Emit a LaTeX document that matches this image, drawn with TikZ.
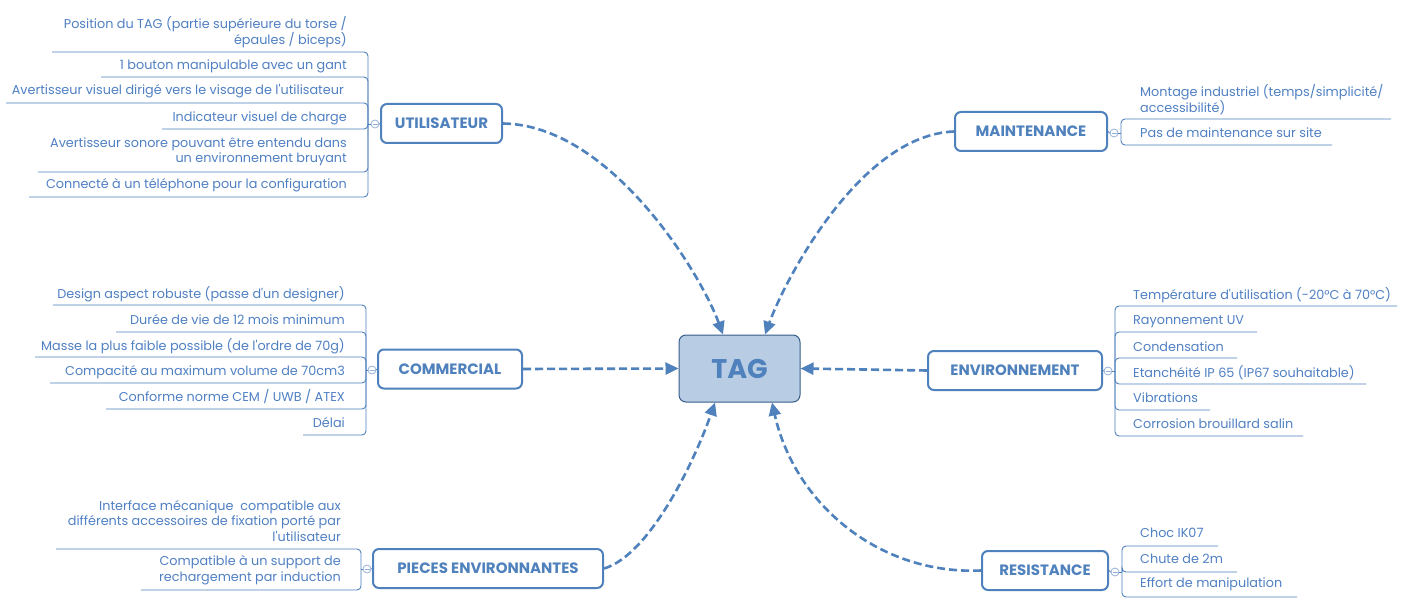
\documentclass[tikz,border=0pt]{standalone}
\usepackage{fontspec}
\setmainfont{Poppins}[Ligatures=TeXOff]
\usetikzlibrary{arrows.meta,calc}
\definecolor{mblue}{RGB}{79,129,189}
\definecolor{itxt}{RGB}{80,128,196}
\definecolor{tagfill}{RGB}{184,204,228}
\definecolor{tagline}{RGB}{56,93,138}
\definecolor{knobc}{RGB}{150,178,218}
\newcommand\litem[7]{% name, textx, texty, text, uleft, uy, bx/cy
  \node[itm,anchor=east,align=right] (#1) at (#2,#3) {#4};
  \draw[uline] (#5,#6) -- #7;
}
\newcommand\ritem[7]{%
  \node[itm,anchor=west,align=left] (#1) at (#2,#3) {#4};
  \draw[uline] (#5,#6) -- #7;
}
\begin{document}
\begin{tikzpicture}[x=1pt,y=-1pt,
  cat/.style={draw=mblue, line width=2pt, rounded corners=6pt, text=mblue,
    font=\bfseries\fontsize{15}{17}\selectfont, inner sep=0pt, minimum height=39pt},
  itm/.style={text=itxt, font=\fontsize{12.8}{15.5}\selectfont, inner sep=0pt},
  uline/.style={draw=mblue, line width=0.9pt, rounded corners=4pt},
  knobst/.style={circle, draw=knobc, line width=0.8pt, minimum size=8pt, inner sep=0pt, fill=white},
  arr/.style={draw=mblue, line width=2.6pt, dash pattern=on 8pt off 4pt, -{Triangle[length=13pt,width=12pt]}},
]
\useasboundingbox (0,0) rectangle (1408,604);
\fill[white] (0,0) rectangle (1408,604);

% central node
\node[draw=tagline, line width=1pt, fill=tagfill, rounded corners=7pt, minimum width=121pt, minimum height=67pt,
  text=mblue, font=\bfseries\fontsize{27}{30}\selectfont, inner sep=0pt] (tag) at (739.5,368.5) {TAG};

% category nodes
\node[cat, minimum width=121pt] (util) at (441.5,123.5) {UTILISATEUR};
\node[cat, minimum width=144pt] (comm) at (450,369) {COMMERCIAL};
\node[cat, minimum width=230pt] (piec) at (488,568.5) {PIECES ENVIRONNANTES};
\node[cat, minimum width=152pt] (main) at (1031,131.5) {MAINTENANCE};
\node[cat, minimum width=174pt] (envi) at (1015,370.5) {ENVIRONNEMENT};
\node[cat, minimum width=126pt] (resi) at (1045,570.5) {RESISTANCE};

% arrows
\draw[arr] (util.east) .. controls (610,125) and (700,272) .. ([xshift=-16.5pt]tag.north);
\draw[arr] (main.west) .. controls (860,135) and (785,280) .. ([xshift=25.5pt]tag.north);
\draw[arr] (comm.east) -- (tag.west);
\draw[arr] (envi.west) -- (tag.east);
\draw[arr] (piec.east) .. controls (650,555) and (695,460) .. ([xshift=-24.5pt]tag.south);
\draw[arr] (resi.west) .. controls (880,575) and (795,505) .. ([xshift=32.5pt]tag.south);

% knobs
\node[knobst] (ku) at (375,124) {};
\node[knobst] (kc) at (372,370) {};
\node[knobst] (kp) at (367,569) {};
\node[knobst] (km) at (1114,133) {};
\node[knobst] (ke) at (1108,371) {};
\node[knobst] (kr) at (1115,572) {};
\foreach \k in {ku,kc,kp,km,ke,kr}{
  \draw[knobc, line width=0.8pt] ([xshift=-2.5pt]\k.center) -- ([xshift=2.5pt]\k.center);
}
\draw[uline] (368,124) -- (ku.west);  \draw[uline] (ku.east) -- (util.west);
\draw[uline] (366,370) -- (kc.west);  \draw[uline] (kc.east) -- (comm.west);
\draw[uline] (361,569) -- (kp.west);  \draw[uline] (kp.east) -- (piec.west);
\draw[uline] (1121,133) -- (km.east); \draw[uline] (km.west) -- (main.east);
\draw[uline] (1115,371) -- (ke.east); \draw[uline] (ke.west) -- (envi.east);
\draw[uline] (1122,572) -- (kr.east); \draw[uline] (kr.west) -- (resi.east);

% UTILISATEUR items
\litem{u1}{347}{32}{Position du TAG (partie supérieure du torse /\\épaules / biceps)}{52}{52}{(368,52) -- (368,124)}
\litem{u2}{347}{66}{1 bouton manipulable avec un gant}{101}{77}{(368,77) -- (368,124)}
\litem{u3}{344}{91}{Avertisseur visuel dirigé vers le visage de l'utilisateur}{6}{103}{(368,103) -- (368,124)}
\litem{u4}{347}{118}{Indicateur visuel de charge}{162}{129}{(368,129) -- (368,124)}
\litem{u5}{347}{152}{Avertisseur sonore pouvant être entendu dans\\un environnement bruyant}{38}{172}{(368,172) -- (368,124)}
\litem{u6}{347}{185}{Connecté à un téléphone pour la configuration}{29}{197}{(368,197) -- (368,124)}

% COMMERCIAL items
\litem{c1}{345}{294}{Design aspect robuste (passe d'un designer)}{53}{305}{(366,305) -- (366,370)}
\litem{c2}{345}{320}{Durée de vie de 12 mois minimum}{116}{332}{(366,332) -- (366,370)}
\litem{c3}{345}{346}{Masse la plus faible possible (de l'ordre de 70g)}{35}{357}{(366,357) -- (366,370)}
\litem{c4}{345}{372}{Compacité au maximum volume de 70cm3}{50}{383}{(366,383) -- (366,370)}
\litem{c5}{345}{397}{Conforme norme CEM / UWB / ATEX}{106}{409}{(366,409) -- (366,370)}
\litem{c6}{345}{423}{Délai}{303}{435}{(366,435) -- (366,370)}

% PIECES items
\litem{p1}{341}{521}{Interface mécanique \ compatible aux\\différents accessoires de fixation porté par\\l'utilisateur}{56}{549}{(361,549) -- (361,569)}
\litem{p2}{341}{570}{Compatible à un support de\\rechargement par induction}{141}{590}{(361,590) -- (361,569)}

% MAINTENANCE items
\ritem{m1}{1140}{99.5}{Montage industriel (temps/simplicité/\\accessibilité)}{1391}{119}{(1121,119) -- (1121,133)}
\ritem{m2}{1140}{133}{Pas de maintenance sur site}{1332}{145}{(1121,145) -- (1121,133)}

% ENVIRONNEMENT items
\ritem{e1}{1133}{295}{Température d'utilisation (-20°C à 70°C)}{1397}{306}{(1115,306) -- (1115,371)}
\ritem{e2}{1133}{322}{Rayonnement UV}{1257}{332}{(1115,332) -- (1115,371)}
\ritem{e3}{1133}{347}{Condensation}{1237}{358}{(1115,358) -- (1115,371)}
\ritem{e4}{1133}{373}{Etanchéité IP 65 (IP67 souhaitable)}{1366}{384}{(1115,384) -- (1115,371)}
\ritem{e5}{1133}{398}{Vibrations}{1210}{410}{(1115,410) -- (1115,371)}
\ritem{e6}{1133}{424}{Corrosion brouillard salin}{1303}{436}{(1115,436) -- (1115,371)}

% RESISTANCE items
\ritem{r1}{1140}{533}{Choc IK07}{1218}{546}{(1122,546) -- (1122,572)}
\ritem{r2}{1140}{559}{Chute de 2m}{1237}{572}{(1122,572) -- (1122,572)}
\ritem{r3}{1140}{584}{Effort de manipulation}{1297}{597}{(1122,597) -- (1122,572)}
\end{tikzpicture}
\end{document}
